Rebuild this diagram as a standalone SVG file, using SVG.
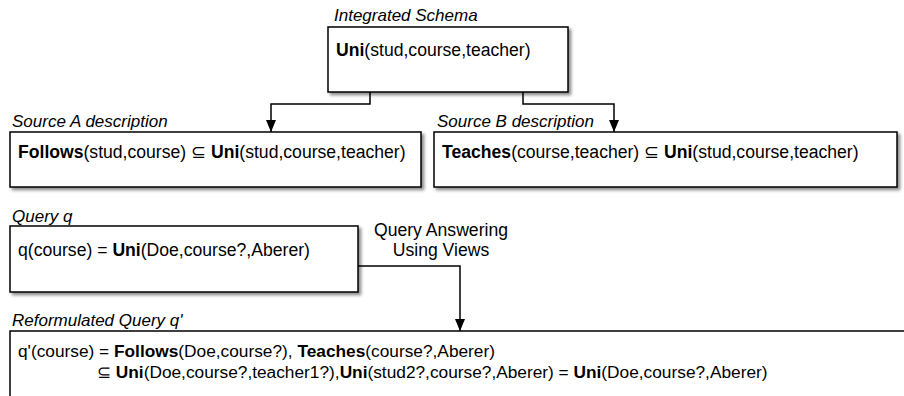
<svg xmlns="http://www.w3.org/2000/svg" width="904" height="396" viewBox="0 0 904 396">
  <style>
    text { font-family: "Liberation Sans", Arial, Helvetica, sans-serif; font-size: 17.6px; fill: #000; }
    .cap { font-style: italic; font-size: 17px; }
    .b { font-weight: bold; }
    .small { font-size: 17.3px; }
    .box { fill: #fff; stroke: #000; stroke-width: 1.5; }
    .wire { fill: none; stroke: #000; stroke-width: 1.5; }
  </style>
  <defs>
    <filter id="shadow" x="-5%" y="-10%" width="115%" height="130%">
      <feDropShadow dx="2.5" dy="2.5" stdDeviation="1.5" flood-color="#000" flood-opacity="0.45"/>
    </filter>
    <marker id="arrow" viewBox="0 0 12 10" refX="12" refY="5" markerWidth="12" markerHeight="10" markerUnits="userSpaceOnUse" orient="auto">
      <path d="M0,0 L12,5 L0,10 Z" fill="#000"/>
    </marker>
  </defs>

  <rect width="904" height="396" fill="#fff"/>

  <!-- integrated schema -->
  <g id="integrated">
    <text class="cap" x="334" y="21">Integrated Schema</text>
    <rect class="box" x="328" y="27" width="240" height="65" filter="url(#shadow)"/>
    <text x="336" y="56"><tspan class="b">Uni</tspan>(stud,course,teacher)</text>
  </g>

  <!-- source A -->
  <g id="sourceA">
    <text class="cap" x="12" y="127">Source A description</text>
    <rect class="box" x="10" y="132" width="411" height="55" filter="url(#shadow)"/>
    <text x="18" y="158"><tspan class="b">Follows</tspan>(stud,course) ⊆ <tspan class="b">Uni</tspan>(stud,course,teacher)</text>
  </g>

  <!-- source B -->
  <g id="sourceB">
    <text class="cap" x="437" y="127">Source B description</text>
    <rect class="box" x="434" y="132" width="463" height="55" filter="url(#shadow)"/>
    <text x="442" y="158"><tspan class="b">Teaches</tspan>(course,teacher) ⊆ <tspan class="b">Uni</tspan>(stud,course,teacher)</text>
  </g>

  <!-- query q -->
  <g id="query">
    <text class="cap" x="12" y="222">Query q</text>
    <rect class="box" x="10" y="226" width="348" height="66" filter="url(#shadow)"/>
    <text x="18" y="256">q(course) = <tspan class="b">Uni</tspan>(Doe,course?,Aberer)</text>
  </g>

  <!-- reformulated query -->
  <g id="reformulated">
    <text class="cap" x="12" y="326">Reformulated Query q'</text>
    <rect class="box" x="10" y="331" width="920" height="90"/>
    <text class="small" x="18" y="357">q'(course) = <tspan class="b">Follows</tspan>(Doe,course?), <tspan class="b">Teaches</tspan>(course?,Aberer)</text>
    <text class="small" x="97" y="378">⊆ <tspan class="b">Uni</tspan>(Doe,course?,teacher1?),<tspan class="b">Uni</tspan>(stud2?,course?,Aberer) = <tspan class="b">Uni</tspan>(Doe,course?,Aberer)</text>
  </g>

  <!-- connectors -->
  <g id="connectors">
    <path class="wire" d="M370,92 V104 H271 V132" marker-end="url(#arrow)"/>
    <path class="wire" d="M523,92 V104 H614 V132" marker-end="url(#arrow)"/>
    <path class="wire" d="M358,266 H460 V331" marker-end="url(#arrow)"/>
    <text x="441" y="236" text-anchor="middle">Query Answering</text>
    <text x="441" y="256" text-anchor="middle">Using Views</text>
  </g>
</svg>
